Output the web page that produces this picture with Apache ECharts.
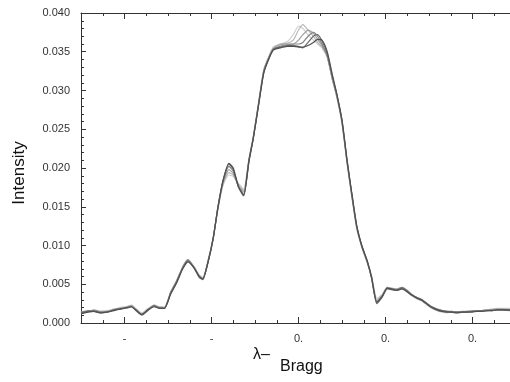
<!DOCTYPE html>
<html>
<head>
<meta charset="utf-8">
<script src="https://cdn.jsdelivr.net/npm/echarts@6/dist/echarts.min.js"></script>
<style>
html,body{margin:0;padding:0;background:#fff;}
#chart{width:510px;height:382px;}
</style>
</head>
<body>
<div id="chart"></div>
<script>
// x positions (major tick = 1 unit)
var xValues = [
 -2.50,-2.42,-2.35,-2.28,-2.20,-2.12,-2.05,-1.98,-1.92,-1.86,
 -1.80,-1.73,-1.66,-1.60,-1.54,-1.47,-1.40,-1.33,-1.27,-1.20,
 -1.14,-1.10,-1.04,-0.98,-0.93,-0.87,-0.80,-0.75,-0.69,-0.63,
 -0.57,-0.52,-0.46,-0.40,-0.35,-0.29,-0.21,-0.13,-0.06,0.00,
 0.05,0.11,0.17,0.22,0.27,0.33,0.39,0.44,0.50,0.56,
 0.62,0.67,0.73,0.79,0.84,0.90,0.96,1.02,1.07,1.13,
 1.19,1.25,1.30,1.36,1.42,1.48,1.53,1.59,1.65,1.71,
 1.76,1.82,1.88,1.94,2.00,2.05,2.11,2.17,2.23,2.28,
 2.34,2.43
];
var curveA = [
 0.0012,0.0014,0.0016,0.0015,0.0016,0.0018,0.0019,0.0021,0.0022,0.0018,
 0.0013,0.0019,0.0023,0.0021,0.0021,0.0039,0.0054,0.0071,0.0080,0.0073,
 0.0062,0.0059,0.0081,0.0111,0.0144,0.0177,0.0191,0.0189,0.0180,0.0173,
 0.0212,0.0241,0.0284,0.0327,0.0342,0.0356,0.0360,0.0363,0.0372,0.0383,
 0.0380,0.0372,0.0365,0.0360,0.0355,0.0343,0.0315,0.0291,0.0257,0.0204,
 0.0157,0.0121,0.0097,0.0078,0.0061,0.0032,0.0037,0.0045,0.0043,0.0042,
 0.0044,0.0040,0.0035,0.0031,0.0028,0.0023,0.0019,0.0016,0.0014,0.0013,
 0.0014,0.0013,0.0014,0.0014,0.0015,0.0015,0.0016,0.0017,0.0018,0.0019,
 0.0019,0.0019
];
var curveB = [
 0.0013,0.0015,0.0016,0.0014,0.0015,0.0018,0.0020,0.0021,0.0023,0.0017,
 0.0012,0.0018,0.0022,0.0021,0.0020,0.0038,0.0053,0.0072,0.0081,0.0072,
 0.0061,0.0058,0.0080,0.0110,0.0145,0.0178,0.0194,0.0191,0.0179,0.0171,
 0.0211,0.0240,0.0283,0.0326,0.0341,0.0355,0.0360,0.0361,0.0365,0.0378,
 0.0385,0.0378,0.0370,0.0362,0.0356,0.0343,0.0314,0.0292,0.0258,0.0205,
 0.0158,0.0122,0.0097,0.0078,0.0060,0.0030,0.0036,0.0046,0.0044,0.0043,
 0.0045,0.0041,0.0036,0.0032,0.0029,0.0024,0.0020,0.0017,0.0015,0.0014,
 0.0014,0.0014,0.0014,0.0015,0.0015,0.0015,0.0016,0.0017,0.0018,0.0018,
 0.0018,0.0018
];
var curveC = [
 0.0014,0.0015,0.0017,0.0015,0.0015,0.0017,0.0019,0.0020,0.0022,0.0016,
 0.0011,0.0017,0.0023,0.0020,0.0020,0.0040,0.0055,0.0073,0.0082,0.0072,
 0.0060,0.0057,0.0079,0.0109,0.0146,0.0180,0.0198,0.0193,0.0177,0.0169,
 0.0210,0.0239,0.0282,0.0325,0.0340,0.0354,0.0359,0.0360,0.0360,0.0365,
 0.0372,0.0378,0.0374,0.0366,0.0358,0.0344,0.0314,0.0293,0.0259,0.0206,
 0.0159,0.0123,0.0098,0.0079,0.0059,0.0028,0.0035,0.0046,0.0045,0.0044,
 0.0046,0.0042,0.0037,0.0032,0.0029,0.0024,0.0020,0.0017,0.0015,0.0014,
 0.0015,0.0014,0.0015,0.0015,0.0016,0.0016,0.0016,0.0017,0.0017,0.0018,
 0.0018,0.0017
];
var curveD = [
 0.0014,0.0016,0.0016,0.0014,0.0014,0.0017,0.0018,0.0020,0.0021,0.0016,
 0.0011,0.0017,0.0022,0.0020,0.0019,0.0039,0.0054,0.0072,0.0081,0.0071,
 0.0059,0.0057,0.0079,0.0110,0.0147,0.0182,0.0202,0.0196,0.0176,0.0166,
 0.0209,0.0239,0.0282,0.0324,0.0340,0.0353,0.0357,0.0359,0.0360,0.0360,
 0.0362,0.0370,0.0375,0.0370,0.0360,0.0345,0.0316,0.0294,0.0260,0.0207,
 0.0160,0.0124,0.0098,0.0079,0.0058,0.0026,0.0034,0.0045,0.0044,0.0043,
 0.0046,0.0042,0.0037,0.0033,0.0030,0.0025,0.0021,0.0018,0.0016,0.0015,
 0.0015,0.0014,0.0014,0.0015,0.0015,0.0016,0.0016,0.0016,0.0017,0.0017,
 0.0017,0.0017
];
var curveE = [
 0.0013,0.0015,0.0015,0.0013,0.0014,0.0017,0.0018,0.0019,0.0021,0.0015,
 0.0010,0.0016,0.0022,0.0019,0.0019,0.0038,0.0053,0.0071,0.0080,0.0071,
 0.0059,0.0056,0.0078,0.0109,0.0147,0.0183,0.0205,0.0198,0.0175,0.0164,
 0.0208,0.0238,0.0281,0.0323,0.0339,0.0353,0.0356,0.0358,0.0358,0.0357,
 0.0355,0.0362,0.0370,0.0372,0.0364,0.0348,0.0318,0.0295,0.0261,0.0208,
 0.0161,0.0125,0.0099,0.0080,0.0058,0.0025,0.0033,0.0044,0.0043,0.0042,
 0.0045,0.0041,0.0036,0.0033,0.0030,0.0025,0.0021,0.0018,0.0016,0.0015,
 0.0014,0.0014,0.0014,0.0014,0.0015,0.0015,0.0015,0.0016,0.0016,0.0017,
 0.0017,0.0016
];
var curveF = [
 0.0012,0.0014,0.0015,0.0013,0.0014,0.0016,0.0018,0.0020,0.0021,0.0016,
 0.0011,0.0017,0.0021,0.0019,0.0019,0.0037,0.0052,0.0070,0.0079,0.0071,
 0.0060,0.0057,0.0079,0.0110,0.0146,0.0182,0.0206,0.0200,0.0176,0.0165,
 0.0209,0.0238,0.0280,0.0322,0.0338,0.0352,0.0355,0.0357,0.0357,0.0356,
 0.0356,0.0358,0.0362,0.0366,0.0365,0.0350,0.0320,0.0296,0.0262,0.0209,
 0.0162,0.0125,0.0099,0.0080,0.0059,0.0027,0.0034,0.0045,0.0044,0.0042,
 0.0044,0.0040,0.0036,0.0032,0.0029,0.0024,0.0020,0.0017,0.0015,0.0014,
 0.0014,0.0013,0.0014,0.0014,0.0014,0.0015,0.0015,0.0016,0.0016,0.0017,
 0.0017,0.0017
];
var curves = [curveA, curveB, curveC, curveD, curveE, curveF];
var curveColors = ['#d0d0d0', '#b8b8b8', '#9e9e9e', '#858585', '#6a6a6a', '#505050'];

var xMajorTicks = [-2, -1, 0, 1, 2];
var xMajorLabels = ['-', '-', '0.', '0.', '0.'];
var xMinorTicks = [-2.25, -1.75, -1.5, -1.25, -0.75, -0.5, -0.25, 0.25, 0.5, 0.75, 1.25, 1.5, 1.75, 2.25];
var yTickLabels = ['0.000', '0.005', '0.010', '0.015', '0.020', '0.025', '0.030', '0.035', '0.040'];

var X_MIN = -2.5, X_MAX = 2.431;
var FONT = '"Liberation Sans", Arial, sans-serif';
var AXIS_COLOR = '#333';

function mkX(pos, ticks, len, showLine, showLabels) {
  return {
    type: 'value', position: pos, min: X_MIN, max: X_MAX,
    axisLine: { show: showLine, onZero: false, lineStyle: { color: AXIS_COLOR, width: 1 } },
    axisTick: { show: true, inside: true, length: len, customValues: ticks, lineStyle: { color: AXIS_COLOR, width: 1 } },
    axisLabel: showLabels ? {
      show: true, customValues: xMajorTicks, margin: 10, color: '#333',
      fontFamily: FONT, fontSize: 11,
      formatter: function (v) { var i = xMajorTicks.indexOf(Math.round(v)); return i >= 0 ? xMajorLabels[i] : ''; }
    } : { show: false },
    splitLine: { show: false }
  };
}

var series = curves.map(function (c, k) {
  return {
    type: 'line', xAxisIndex: 0, yAxisIndex: 0,
    data: xValues.map(function (x, i) { return [x, c[i]]; }),
    showSymbol: false, symbol: 'none', smooth: 0.2,
    lineStyle: { color: curveColors[k], width: 1.2 },
    silent: true, animation: false
  };
});

var chart = echarts.init(document.getElementById('chart'), null, { renderer: 'canvas' });
chart.setOption({
  animation: false,
  backgroundColor: '#fff',
  grid: { left: 81, right: 0, top: 13, bottom: 59, containLabel: false },
  xAxis: [
    mkX('bottom', xMajorTicks, 6, true, true),
    mkX('bottom', xMinorTicks, 3, false, false),
    mkX('top', xMajorTicks, 6, true, false),
    mkX('top', xMinorTicks, 3, false, false)
  ],
  yAxis: [{
    type: 'value', min: 0, max: 0.04, interval: 0.005, position: 'left',
    axisLine: { show: true, onZero: false, lineStyle: { color: AXIS_COLOR, width: 1 } },
    axisTick: { show: true, inside: true, length: 5, lineStyle: { color: AXIS_COLOR, width: 1 } },
    minorTick: { show: true, splitNumber: 5, length: 3, lineStyle: { color: AXIS_COLOR, width: 1 } },
    axisLabel: {
      margin: 11, color: '#333', fontFamily: FONT, fontSize: 11,
      formatter: function (v) { return yTickLabels[Math.round(v / 0.005)]; }
    },
    splitLine: { show: false }
  }],
  graphic: [
    {
      type: 'text', x: 19, y: 173, rotation: Math.PI / 2,
      style: { text: 'Intensity', align: 'center', verticalAlign: 'middle', fontFamily: FONT, fontSize: 17, fill: '#111' }
    },
    {
      type: 'text', x: 253, y: 347,
      style: { text: 'λ–', fontFamily: FONT, fontSize: 16, fill: '#111' }
    },
    {
      type: 'text', x: 280, y: 359,
      style: { text: 'Bragg', fontFamily: FONT, fontSize: 16, fill: '#111' }
    }
  ],
  series: series
});
</script>
</body>
</html>
